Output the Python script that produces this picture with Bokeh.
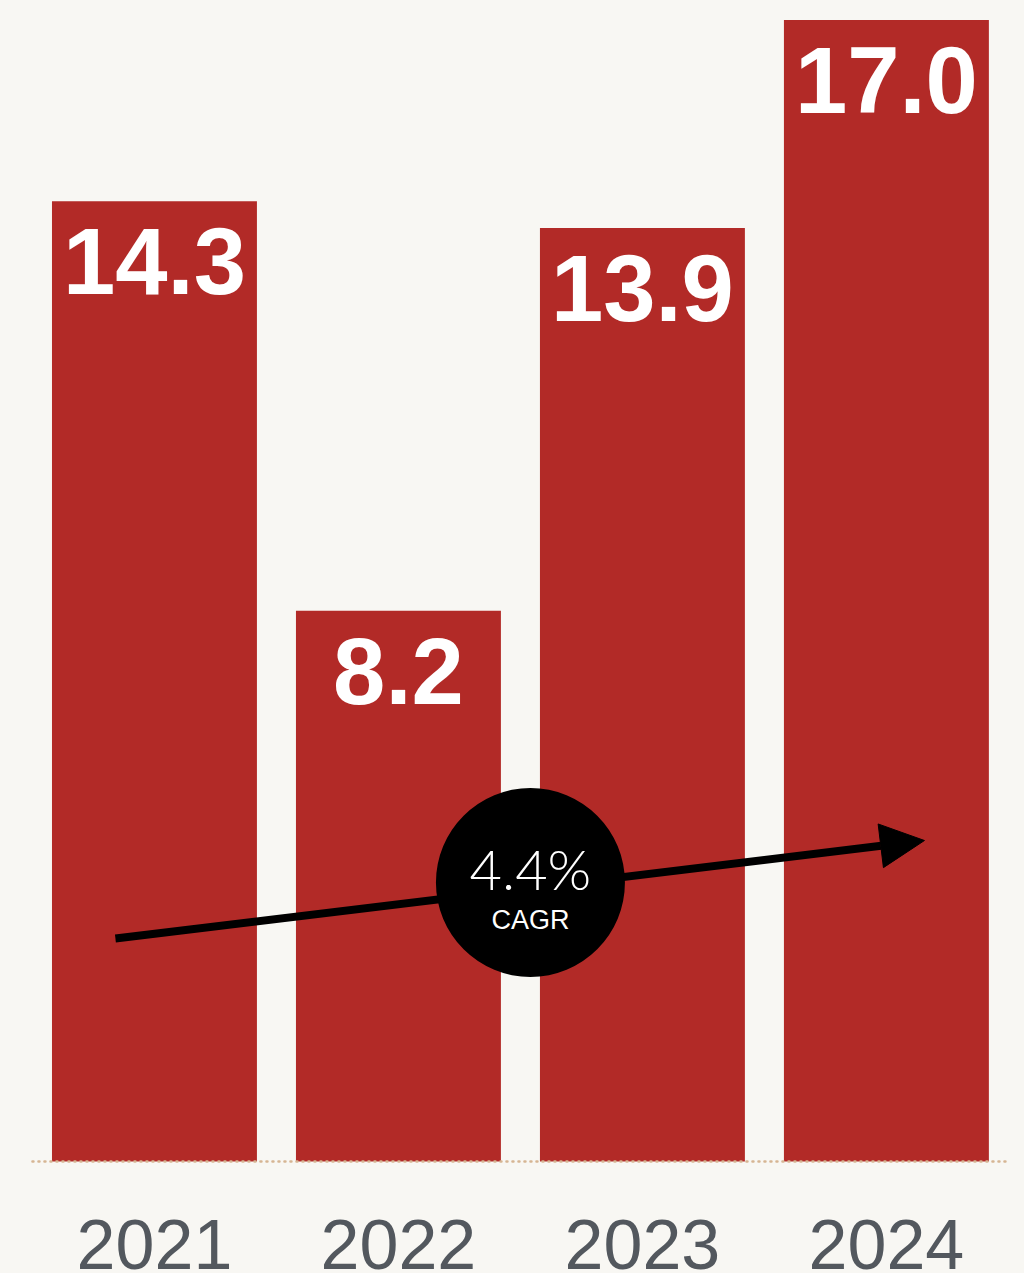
from bokeh.plotting import figure
from bokeh.models import Range1d, Arrow, NormalHead, ColumnDataSource
from bokeh.core.properties import value
from bokeh.embed import file_html
from bokeh.resources import INLINE

years = ["2021", "2022", "2023", "2024"]
values = [14.3, 8.2, 13.9, 17.0]
labels = ["14.3", "8.2", "13.9", "17.0"]
cagr_text = "4.4%"
cagr_sub = "CAGR"
arrow_x = [-0.16, 3.156]
arrow_y = [3.32, 4.78]
bubble_x = [1.541]
bubble_y = [4.155]

BG = "#f8f7f3"
RED = "#b22a27"

W, H = 1024, 1273
p = figure(width=W, height=H, output_backend="svg", toolbar_location=None,
           x_range=Range1d(-0.631, 3.566), y_range=Range1d(-1.668, 17.289),
           min_border=0, background_fill_color=BG, border_fill_color=BG,
           outline_line_color=None)
p.axis.visible = False
p.grid.visible = False

xs = list(range(len(years)))
src = ColumnDataSource(dict(x=xs, top=values, lab=labels, yr=years, zero=[0]*len(years)))

p.vbar(x="x", top="top", width=0.84, bottom=0, source=src, fill_color=RED, line_color=None)

# dotted baseline
p.segment(x0=[-0.5], y0=[0], x1=[len(years) - 0.5], y1=[0],
          line_color="#d6b593", line_width=2.5, line_dash="1 5", line_cap="round")

# value labels
p.text(x="x", y="top", text="lab", source=src, text_color="white",
       text_font=value("Liberation Sans"), text_font_style="bold", text_font_size="94px",
       text_align="center", text_baseline="alphabetic", y_offset=60)

# year labels
p.text(x="x", y="zero", text="yr", source=src, text_color="#53585e",
       text_font=value("Liberation Sans"), text_font_size="70px",
       text_align="center", text_baseline="alphabetic", y_offset=83)

# CAGR arrow
p.add_layout(Arrow(x_start=arrow_x[0], y_start=arrow_y[0], x_end=arrow_x[1], y_end=arrow_y[1],
                   line_color="black", line_width=8,
                   end=NormalHead(size=44, fill_color="black", line_color="black", line_width=1)))

c = p.circle(x=bubble_x, y=bubble_y, radius=94.5, radius_units="screen",
             fill_color="black", line_color=None)
c.level = "overlay"
t1 = p.text(x=bubble_x, y=bubble_y, text=[cagr_text], text_color="white",
            text_font=value("'Lato Light', 'Liberation Sans'"), text_font_size="56px",
            text_align="center", text_baseline="alphabetic", y_offset=-14)
t1.level = "overlay"
t2 = p.text(x=bubble_x, y=bubble_y, text=[cagr_sub], text_color="white",
            text_font=value("Liberation Sans"), text_font_size="27px",
            text_align="center", text_baseline="alphabetic", y_offset=38)
t2.level = "overlay"

html = file_html(p, INLINE)
html = html.replace("<head>", "<head><style>html,body{margin:0;padding:0;background:%s;overflow:hidden}</style>" % BG, 1)
open("out.html", "w").write(html)
